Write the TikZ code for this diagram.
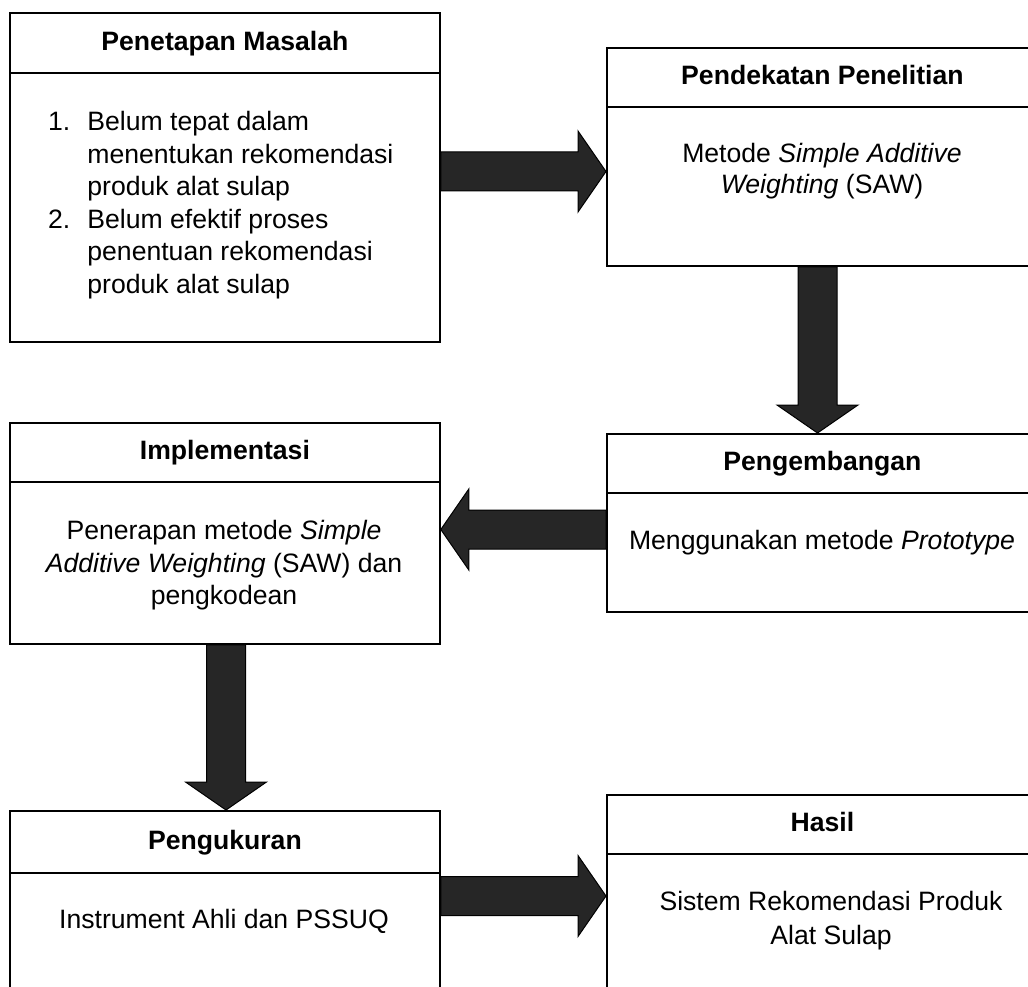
\documentclass[tikz,border=0pt]{standalone}
\usepackage{fontspec}
\setmainfont{Liberation Sans}
\usetikzlibrary{calc}
\definecolor{arrowgray}{HTML}{262626}
\tikzset{
  box/.style={draw, line width=1.8pt, inner sep=0pt, anchor=north west, minimum width=430pt},
  ttl/.style={box, minimum height=#1, font=\fontsize{26.6}{32}\selectfont\bfseries, text height=17pt, text depth=2pt},
  barrow/.style={fill=arrowgray, draw=black, line width=1pt, line join=miter},
  txt/.style={inner sep=0pt, anchor=base, font=\fontsize{26.6}{#1}\selectfont},
  txt/.default=32.6
}
\newcommand\harr[3]{\filldraw[barrow] let \p1=#1, \p2=#2 in
  (\x1,{\y1+19.5pt}) -- ({\x2-(#3)*28pt},{\y1+19.5pt}) -- ({\x2-(#3)*28pt},{\y1+40.5pt}) -- (\x2,\y1)
  -- ({\x2-(#3)*28pt},{\y1-40.5pt}) -- ({\x2-(#3)*28pt},{\y1-19.5pt}) -- (\x1,{\y1-19.5pt}) -- cycle;}
\newcommand\varr[2]{\filldraw[barrow] let \p1=#1, \p2=#2 in
  ({\x1-19.5pt},\y1) -- ({\x1-19.5pt},{\y2+28pt}) -- ({\x1-40.5pt},{\y2+28pt}) -- (\x1,\y2)
  -- ({\x1+40.5pt},{\y2+28pt}) -- ({\x1+19.5pt},{\y2+28pt}) -- ({\x1+19.5pt},\y1) -- cycle;}
\begin{document}
\begin{tikzpicture}[x=1pt,y=-1pt]
\useasboundingbox (0,0) rectangle (1028,987);
\fill[white] (0,0) rectangle (1028,987);
\clip (0,0) rectangle (1028,987);

% Box 1
\node[ttl=60pt] (mt) at (9,12) {Penetapan Masalah};
\node[box, minimum height=269pt] (m) at (9,72) {};
\node[txt, anchor=base west] (mb) at (48,130.5) {\begin{tabular}[t]{@{}l@{\hspace{17pt}}l@{}}1.&Belum tepat dalam\\&menentukan rekomendasi\\&produk alat sulap\\2.&Belum efektif proses\\&penentuan rekomendasi\\&produk alat sulap\end{tabular}};

% Box 2
\node[ttl=59pt, minimum width=431pt] (pt) at (606,47) {Pendekatan Penelitian};
\node[box, minimum width=431pt, minimum height=159pt] (p) at (606,106) {};
\node[txt=31] (pb) at (822,163) {\begin{tabular}[t]{@{}c@{}}Metode \textit{Simple Additive}\\\textit{Weighting} (SAW)\end{tabular}};

% Box 3
\node[ttl=59pt] (it) at (9,422) {Implementasi};
\node[box, minimum height=162pt] (i) at (9,481) {};
\node[txt=32.5] (ib) at (224,539.5) {\begin{tabular}[t]{@{}c@{}}Penerapan metode \textit{Simple}\\\textit{Additive Weighting} (SAW) dan\\pengkodean\end{tabular}};

% Box 4
\node[ttl=59pt, minimum width=431pt] (gt) at (606,433) {Pengembangan};
\node[box, minimum width=431pt, minimum height=119pt] (g) at (606,492) {};
\node[txt] (gb) at (822,549) {Menggunakan metode \textit{Prototype}};

% Box 5
\node[ttl=62pt] (ut) at (9,810) {Pengukuran};
\node[box, minimum height=150pt] (u) at (9,872) {};
\node[txt] (ub) at (224,928) {Instrument Ahli dan PSSUQ};

% Box 6
\node[ttl=59pt, minimum width=431pt] (ht) at (606,794) {Hasil};
\node[box, minimum width=431pt, minimum height=150pt] (h) at (606,853) {};
\node[txt=34] (hb) at (831,910) {\begin{tabular}[t]{@{}c@{}}Sistem Rekomendasi Produk\\Alat Sulap\end{tabular}};

% Arrows
\coordinate (ya) at (0,171.5);
\coordinate (xb) at (817.5,0);
\coordinate (yc) at (0,529.5);
\coordinate (xd) at (226,0);
\coordinate (ye) at (0,896);
\harr{(m.east |- ya)}{(p.west |- ya)}{1}
\varr{(xb |- p.south)}{(xb |- gt.north)}
\harr{(g.west |- yc)}{(i.east |- yc)}{-1}
\varr{(xd |- i.south)}{(xd |- ut.north)}
\harr{(u.east |- ye)}{(h.west |- ye)}{1}
\end{tikzpicture}
\end{document}
